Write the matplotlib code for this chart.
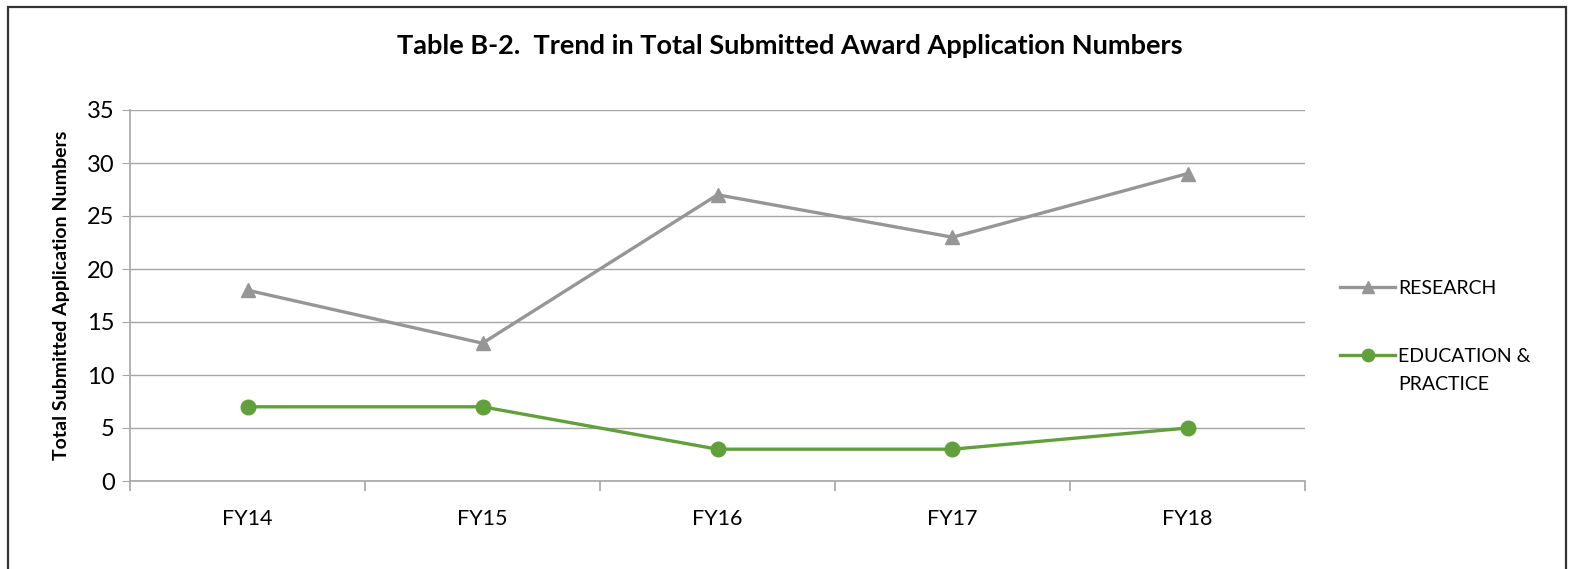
import numpy as np
import matplotlib.pyplot as plt
from matplotlib.patches import Rectangle
from matplotlib.lines import Line2D

plt.rcParams['font.family'] = ['Lato', 'DejaVu Sans']

# Data
years = ['FY14', 'FY15', 'FY16', 'FY17', 'FY18']
research = [18, 13, 27, 23, 29]
education = [7, 7, 3, 3, 5]

grey = '#969696'
green = '#62a03c'
grid = '#a6a6a6'

W, H = 1570, 569
fig = plt.figure(figsize=(W / 100, H / 100), dpi=100)
ax = fig.add_axes([130 / W, 1 - 481 / H, (1305 - 130) / W, (481 - 110) / H])

x = np.arange(len(years))
ax.plot(x, research, '-', color=grey, lw=2.4, marker='^', ms=10)
ax.plot(x, education, '-', color=green, lw=2.4, marker='o', ms=10.5)

ax.set_xlim(-0.5, len(years) - 0.5)
ax.set_ylim(0, 35)
ax.set_yticks(range(0, 36, 5))
ax.set_xticks(x)
ax.set_xticklabels(years)
ax.set_xticks(np.arange(-0.5, len(years), 1), minor=True)
ax.yaxis.grid(True, color=grid, lw=1)
ax.set_axisbelow(True)

for s in ['top', 'right']:
    ax.spines[s].set_visible(False)
for s in ['left', 'bottom']:
    ax.spines[s].set_color(grid)
    ax.spines[s].set_linewidth(1.2)

ax.tick_params(axis='y', length=6, color=grid, labelsize=17, pad=5)
ax.tick_params(axis='x', which='major', length=0, labelsize=15.5, pad=20)
ax.tick_params(axis='x', which='minor', length=7, color=grid, width=1.2)

ax.set_ylabel('Total Submitted Application Numbers', fontsize=14, fontweight='bold', labelpad=12)

fig.text(0.503, 1 - 46 / H, 'Table B-2.  Trend in Total Submitted Award Application Numbers',
         ha='center', va='center', fontsize=19.5, fontweight='bold')

# legend drawn by hand so the two-line label sits like the original
legend_items = [('RESEARCH', grey, '^', 10, 287), ('EDUCATION &', green, 'o', 10.5, 355)]
for label, col, mk, ms, ypx in legend_items:
    yf = 1 - ypx / H
    fig.add_artist(Line2D([1340 / W, 1395 / W], [yf, yf], color=col, lw=2.4))
    fig.add_artist(Line2D([1367.5 / W], [yf], color=col, marker=mk, ms=ms * 0.85, lw=0))
    fig.text(1398 / W, 1 - (ypx + 2) / H, label, va='center', ha='left', fontsize=14)
fig.text(1398 / W, 1 - 384 / H, 'PRACTICE', va='center', ha='left', fontsize=14)

# outer chart border (bottom edge runs past the image)
fig.patches.append(Rectangle((8 / W, -0.02), (1566 - 8) / W, 1.02 - 7 / H,
                             transform=fig.transFigure, fill=False, edgecolor='#333333',
                             lw=1.6, clip_on=False))

fig.savefig('out.png', dpi=100)
